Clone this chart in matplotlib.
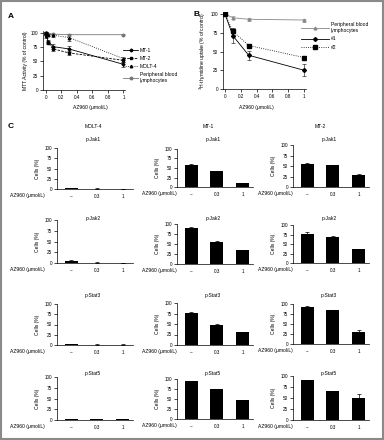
import numpy as np
import matplotlib.pyplot as plt
from matplotlib.patches import Rectangle
from matplotlib.lines import Line2D

plt.rcParams['font.family'] = ['Liberation Sans', 'DejaVu Sans']

# Panel A: MTT activity (% of control)
a_dose = [0, 0.01, 0.03, 0.1, 0.3, 1]
a_mt1 = [100, 98, 85, 76, 72, 45]
a_mt1_err = [1, 2, 3, 4, 5, 4]
a_mt2 = [100, 95, 83, 72, 65, 52]
a_mt2_err = [1, 3, 3, 3, 4, 3]
a_molt4 = [100, 99, 97, 96, 92, 55]
a_molt4_err = [1, 2, 2, 3, 6, 3]
a_pbl = [100, 100, 99, 98, 97, 97]
a_pbl_err = [1, 1, 1, 1, 2, 1]

# Panel B: 3H-thymidine uptake (% of control)
b_dose = [0, 0.1, 0.3, 1]
b_pbl = [100, 95, 93, 92]
b_pbl_err = [0, 2, 2, 2]
b_n1 = [100, 71, 45, 25]
b_n1_err = [0, 9, 6, 8]
b_n2 = [100, 77, 58, 42]
b_n2_err = [0, 5, 2, 2]

# Panel C: % positive cells
c_lines = ['MOLT-4', 'MT-1', 'MT-2']
c_markers = ['p-Jak1', 'p-Jak2', 'p-Stat3', 'p-Stat5']
c_ticks = ['\u2013', '0.3', '1']
molt4_vals = [[3, 1, 0.5], [4, 1, 0.5], [2, 1, 1], [2, 2, 2]]
molt4_err = [[0.5, 0.3, 0.3], [3, 0.5, 0.3], [0.5, 0.3, 0.3], [0.3, 0.3, 0.3]]
mt1_vals = [[59, 41, 10], [90, 56, 34], [77, 47, 31], [94, 75, 47]]
mt1_err = [[1, 1, 1], [2, 2, 2], [1, 2, 1], [0.5, 0.5, 0.5]]
mt2_vals = [[55, 52, 28], [77, 68, 36], [93, 84, 29], [90, 65, 51]]
mt2_err = [[2, 1, 2], [4, 4, 2], [1, 2, 5], [1, 1, 9]]

W, H = 384, 440
fig = plt.figure(figsize=(W / 100, H / 100), dpi=100)
fig.patches.append(Rectangle((0.002, 0.002), 0.996, 0.996, transform=fig.transFigure,
                             fill=False, edgecolor='#8a8a8a', linewidth=1.5))

FS = 3.6


def px_axes(left, top, right, bottom):
    return fig.add_axes([left / W, 1 - bottom / H, (right - left) / W, (bottom - top) / H])


def ftext(x, y, s, **kw):
    kw.setdefault('fontsize', FS)
    return fig.text(x / W, 1 - y / H, s, **kw)


def style(ax):
    for s in ['top', 'right']:
        ax.spines[s].set_visible(False)
    for s in ['left', 'bottom']:
        ax.spines[s].set_linewidth(0.5)
    ax.tick_params(length=2, width=0.5, labelsize=FS - 0.3, pad=1.5)


def series(ax, xs, ys, err, label, **kw):
    ax.errorbar(xs, ys, yerr=err, capsize=1.2, elinewidth=0.4, capthick=0.4,
                linewidth=0.6, **kw)
    return Line2D([], [], linewidth=0.6, label=label, **kw)


# ---- A ----
axA = px_axes(43, 31, 125, 90)
style(axA)
hA = [
    series(axA, a_dose, a_pbl, a_pbl_err, 'Peripheral blood\nlymphocytes',
           color='#777777', marker='o', markersize=1.8),
    series(axA, a_dose, a_molt4, a_molt4_err, 'MOLT-4', color='black', linestyle=':',
           marker='^', markersize=1.8),
    series(axA, a_dose, a_mt2, a_mt2_err, 'MT-2', color='black', linestyle='--',
           dashes=(3, 1.5), marker='s', markersize=1.8),
    series(axA, a_dose, a_mt1, a_mt1_err, 'MT-1', color='black', marker='D', markersize=1.5),
]
axA.set_xlim(-0.035, 1.02)
axA.set_ylim(0, 103.5)
axA.set_xticks([0, 0.2, 0.4, 0.6, 0.8, 1])
axA.set_xticklabels(['0', '0.2', '0.4', '0.6', '0.8', '1'])
axA.set_yticks([0, 25, 50, 75, 100])
axA.legend(handles=hA[::-1], loc='upper left', bbox_to_anchor=(123 / W, 1 - 48 / H),
           bbox_transform=fig.transFigure, frameon=False, fontsize=FS, handlelength=3,
           handletextpad=0.4, labelspacing=0.6, borderaxespad=0, borderpad=0)
ftext(90, 108, 'AZ960 (\u03bcmol/L)', ha='center', va='center')
ftext(25, 61, 'MTT Activity (% of control)', ha='center', va='center', rotation=90)
ftext(8, 17, 'A', fontsize=6, fontweight='bold', ha='left', va='center')

# ---- B ----
axB = px_axes(223, 12, 306, 89)
style(axB)
hB = [
    series(axB, b_dose, b_pbl, b_pbl_err, 'Peripheral blood\nlymphocytes',
           color='#888888', marker='^', markersize=2),
    series(axB, b_dose, b_n1, b_n1_err, '#1', color='black', marker='D', markersize=2),
    series(axB, b_dose, b_n2, b_n2_err, '#2', color='black', linestyle=':', marker='s',
           markersize=3),
]
axB.set_xlim(-0.025, 1.025)
axB.set_ylim(0, 102.7)
axB.set_xticks([0, 0.2, 0.4, 0.6, 0.8, 1])
axB.set_xticklabels(['0', '0.2', '0.4', '0.6', '0.8', '1'])
axB.set_yticks([0, 25, 50, 75, 100])
axB.legend(handles=hB, loc='upper left', bbox_to_anchor=(301 / W, 1 - 22 / H),
           bbox_transform=fig.transFigure, frameon=False, fontsize=FS, handlelength=5.5,
           handletextpad=0.5, labelspacing=0.7, borderaxespad=0, borderpad=0)
ftext(256, 108, 'AZ960 (\u03bcmol/L)', ha='center', va='center')
ftext(203, 51, '$^3$H-thymidine uptake (% of control)', ha='center', va='center',
      rotation=90)
ftext(193, 14, 'B', fontsize=6, fontweight='bold', ha='left', va='center')

# ---- C ----
ftext(8, 127, 'C', fontsize=6, fontweight='bold', ha='left', va='center')
col_left = [57, 177, 293]
col_head_x = [93, 208, 320]
lab_off = [12, 0, 0]
row_title_y = [140, 218, 295, 373]
row_box = [
    [(148, 189), (149, 187), (145, 187)],
    [(220, 263), (224, 264), (225, 263)],
    [(304, 345), (303, 345), (304, 344)],
    [(377, 420), (379, 419), (376, 420)],
]
all_vals = [molt4_vals, mt1_vals, mt2_vals]
all_err = [molt4_err, mt1_err, mt2_err]
x = np.arange(3)

for c in range(3):
    ftext(col_head_x[c], 127, c_lines[c], ha='center', va='center')
    for r in range(4):
        top, bot = row_box[r][c]
        left = col_left[c]
        ax = px_axes(left, top, left + 76, bot)
        style(ax)
        vals = all_vals[c][r]
        err = all_err[c][r]
        ax.bar(x, vals, width=0.5, color='black',
               yerr=[np.zeros(3), err], capsize=1.2,
               error_kw=dict(elinewidth=0.5, capthick=0.5, ecolor='black'))
        ax.set_xlim(-0.55, 2.4)
        ax.set_ylim(0, 100)
        ax.set_yticks([0, 25, 50, 75, 100])
        ax.set_xticks(x)
        ax.set_xticklabels(c_ticks)
        ax.tick_params(axis='x', length=0, pad=3.5)
        ftext(left + 36, row_title_y[r], c_markers[r], ha='center', va='center')
        ftext(left - 19, (top + bot) / 2, 'Cells (%)', ha='center', va='center', rotation=90)
        ftext(left - lab_off[c], bot + 6.5, 'AZ960 (\u03bcmol/L)', ha='right', va='center')

fig.savefig('out.png', dpi=100)
